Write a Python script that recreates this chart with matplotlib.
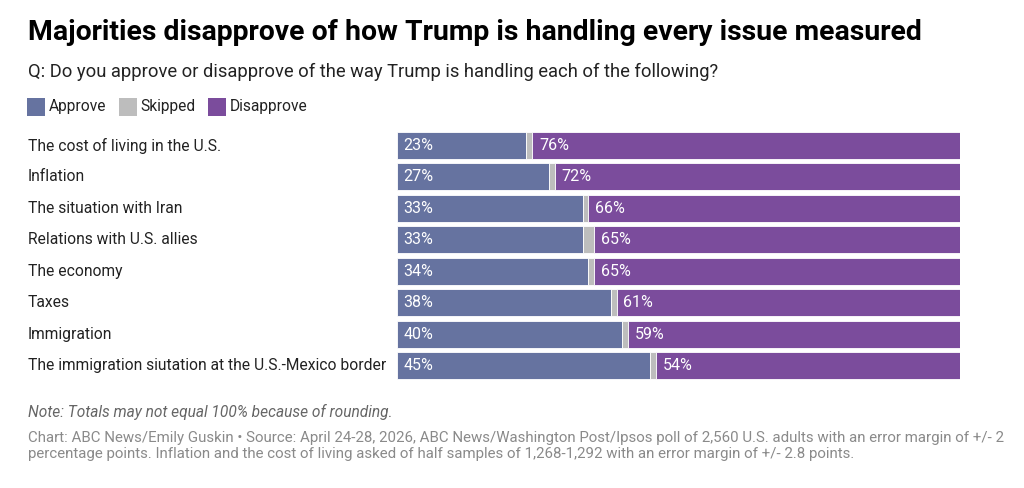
import matplotlib
matplotlib.use("Agg")
import matplotlib.pyplot as plt
import matplotlib.transforms as mtransforms
from matplotlib.patches import Rectangle

categories = [
    "The cost of living in the U.S.",
    "Inflation",
    "The situation with Iran",
    "Relations with U.S. allies",
    "The economy",
    "Taxes",
    "Immigration",
    "The immigration siutation at the U.S.-Mexico border",
]
approve = [23, 27, 33, 33, 34, 38, 40, 45]
disapprove = [76, 72, 66, 65, 65, 61, 59, 54]
skipped = [100 - a - d for a, d in zip(approve, disapprove)]

series_names = ["Approve", "Skipped", "Disapprove"]
colors = ["#6673A0", "#BDBDBD", "#7B4C9C"]

plt.rcParams['font.family'] = ['Roboto', 'DejaVu Sans']

fig = plt.figure(figsize=(10.24, 4.88), dpi=100)
ax = fig.add_axes([397 / 1024, 1 - 381.2 / 488, 563 / 1024, (381.2 - 129.8) / 488])

y = list(range(len(categories)))
left = [0] * len(categories)
for vals, col in zip([approve, skipped, disapprove], colors):
    ax.barh(y, vals, left=left, height=0.86, color=col, edgecolor="white", linewidth=0.6)
    left = [l + v for l, v in zip(left, vals)]

for i in y:
    ax.text(1.1, i, f"{approve[i]}%", color="white", va="center", ha="left", fontsize=11.5)
    start = approve[i] + skipped[i]
    ax.text(start + 1.2, i, f"{disapprove[i]}%", color="white", va="center", ha="left", fontsize=11.5)

ax.set_xlim(0, 100)
ax.set_ylim(len(categories) - 0.5, -0.5)
ax.axis("off")

trans = mtransforms.blended_transform_factory(fig.transFigure, ax.transData)
for i, c in enumerate(categories):
    ax.text(28 / 1024, i, c, transform=trans, va="center", ha="left", fontsize=11.25, color="#222222")

# Title & subtitle
fig.text(28 / 1024, 1 - 32 / 488, "Majorities disapprove of how Trump is handling every issue measured",
         fontsize=20.45, fontweight="bold", va="center", ha="left", color="#000000")
fig.text(28 / 1024, 1 - 72 / 488, "Q: Do you approve or disapprove of the way Trump is handling each of the following?",
         fontsize=13.2, va="center", ha="left", color="#222222")

# Legend
lx = 27
for name, col in zip(series_names, colors):
    fig.patches.append(Rectangle((lx / 1024, 1 - 116 / 488), 18 / 1024, 18 / 488,
                                 transform=fig.transFigure, facecolor=col, edgecolor="none"))
    t = fig.text((lx + 22) / 1024, 1 - 107 / 488, name, fontsize=11.2, va="center", ha="left", color="#222222")
    fig.canvas.draw()
    bb = t.get_window_extent()
    lx = bb.x1 + 12

# Notes
fig.text(28 / 1024, 1 - 412 / 488, "Note: Totals may not equal 100% because of rounding.",
         fontsize=11.2, style="italic", va="center", ha="left", color="#666666")
fig.text(28 / 1024, 1 - 438 / 488,
         "Chart: ABC News/Emily Guskin \u2022 Source: April 24-28, 2026, ABC News/Washington Post/Ipsos poll of 2,560 U.S. adults with an error margin of +/- 2",
         fontsize=10.85, va="center", ha="left", color="#8A8A8A")
fig.text(28 / 1024, 1 - 454 / 488,
         "percentage points. Inflation and the cost of living asked of half samples of 1,268-1,292 with an error margin of +/- 2.8 points.",
         fontsize=10.85, va="center", ha="left", color="#8A8A8A")

fig.savefig("out.png", dpi=100, facecolor="white")
